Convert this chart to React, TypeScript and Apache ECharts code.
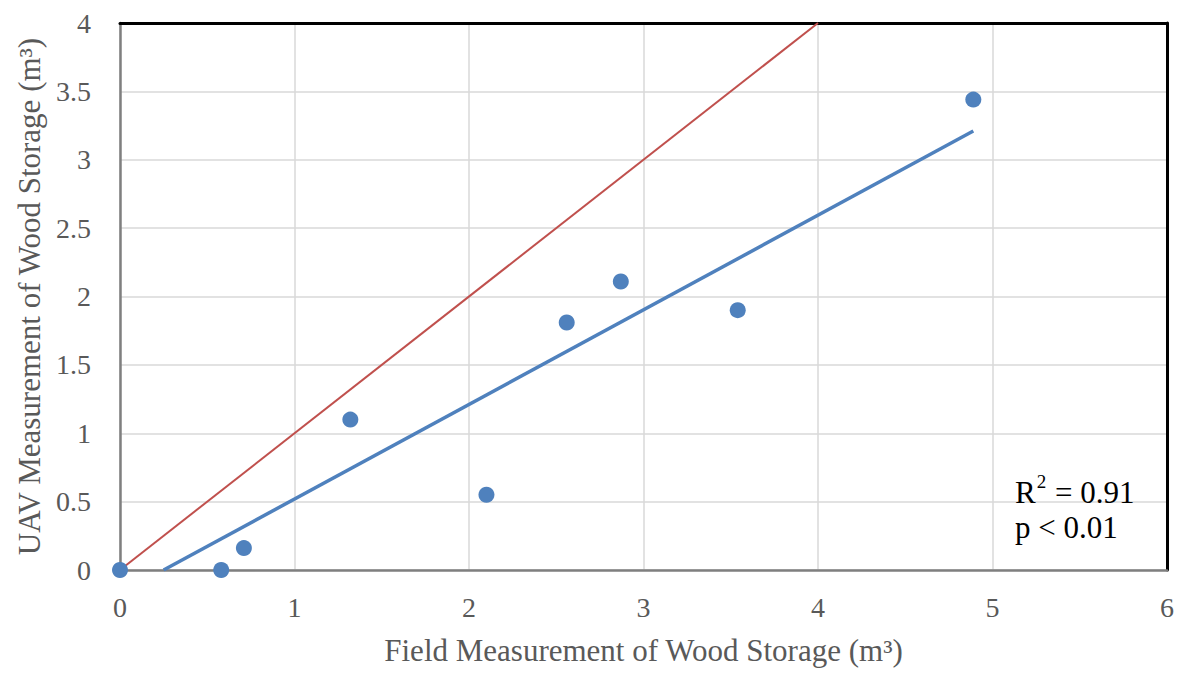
import React, { useEffect, useRef } from "react";
import * as echarts from "echarts";

const fieldValues = [0, 0.58, 0.71, 1.32, 2.1, 2.56, 2.87, 3.54, 4.89];
const uavValues = [0, 0, 0.16, 1.1, 0.55, 1.81, 2.11, 1.9, 3.44];
const trendLine = [
  [0.25, 0],
  [4.89, 3.21],
];
const oneToOneLine = [
  [0, 0],
  [4, 4],
];
const xTitle = "Field Measurement of Wood Storage (m³)";
const yTitle = "UAV Measurement of Wood Storage (m³)";
const statR2 = "0.91";
const statP = "p < 0.01";

const FONT = "Liberation Serif";

export default function App() {
  const ref = useRef<HTMLDivElement>(null);
  useEffect(() => {
    document.body.style.margin = "0";
    if (!ref.current) return;
    const chart = echarts.init(ref.current, null, { renderer: "svg" });
    const points = fieldValues.map((x, i) => [x, uavValues[i]]);
    const border = { show: true, onZero: false, lineStyle: { color: "#000000", width: 3 } };
    chart.setOption({
      animation: false,
      backgroundColor: "#ffffff",
      textStyle: { fontFamily: FONT },
      grid: { left: 120, right: 15, top: 23, bottom: 105 },
      xAxis: [
        {
          type: "value",
          min: 0,
          max: 6,
          interval: 1,
          name: xTitle,
          nameLocation: "middle",
          nameGap: 65,
          nameTextStyle: { fontFamily: FONT, fontSize: 31, color: "#595959" },
          axisLine: { show: true, onZero: false, lineStyle: { color: "#7f7f7f", width: 2.5 } },
          axisTick: { show: false },
          axisLabel: { fontFamily: FONT, fontSize: 28, color: "#595959", margin: 23 },
          splitLine: { show: true, lineStyle: { color: "#d9d9d9", width: 1.5 } },
          z: 2,
        },
        {
          type: "value",
          position: "top",
          min: 0,
          max: 6,
          interval: 1,
          axisLine: border,
          axisTick: { show: false },
          axisLabel: { show: false },
          splitLine: { show: false },
          z: 2,
        },
      ],
      yAxis: [
        {
          type: "value",
          min: 0,
          max: 4,
          interval: 0.5,
          name: yTitle,
          nameLocation: "middle",
          nameGap: 72,
          nameRotate: 90,
          nameTextStyle: { fontFamily: FONT, fontSize: 31, color: "#595959" },
          axisLine: { show: true, onZero: false, lineStyle: { color: "#7f7f7f", width: 2.5 } },
          axisTick: { show: false },
          axisLabel: { fontFamily: FONT, fontSize: 28, color: "#595959", margin: 29 },
          splitLine: { show: true, lineStyle: { color: "#d9d9d9", width: 1.5 } },
          z: 2,
        },
        {
          type: "value",
          position: "right",
          min: 0,
          max: 4,
          interval: 0.5,
          axisLine: border,
          axisTick: { show: false },
          axisLabel: { show: false },
          splitLine: { show: false },
          z: 2,
        },
      ],
      series: [
        {
          type: "line",
          data: oneToOneLine,
          symbol: "none",
          lineStyle: { color: "#C0504D", width: 2 },
          z: 3,
        },
        {
          type: "line",
          data: trendLine,
          symbol: "none",
          lineStyle: { color: "#4F81BD", width: 3.5 },
          z: 3,
        },
        {
          type: "scatter",
          data: points,
          symbol: "circle",
          symbolSize: 16,
          itemStyle: { color: "#4F81BD", opacity: 1 },
          z: 4,
        },
      ],
      graphic: [
        {
          type: "text",
          x: 1015,
          y: 490,
          style: {
            text: "{b|R}{s|2}{b| = " + statR2 + "}",
            verticalAlign: "middle",
            rich: {
              b: { fontFamily: FONT, fontSize: 31, fill: "#000000", verticalAlign: "bottom", lineHeight: 36 },
              s: { fontFamily: FONT, fontSize: 19, fill: "#000000", verticalAlign: "top", lineHeight: 36, padding: [0, 1, 16, 1] },
            },
          },
          z: 10,
        },
        {
          type: "text",
          x: 1015,
          y: 527,
          style: {
            text: statP,
            fontFamily: FONT,
            fontSize: 31,
            fill: "#000000",
            verticalAlign: "middle",
          },
          z: 10,
        },
      ],
    });
    return () => chart.dispose();
  }, []);
  return <div ref={ref} style={{ width: 1182, height: 675 }} />;
}
